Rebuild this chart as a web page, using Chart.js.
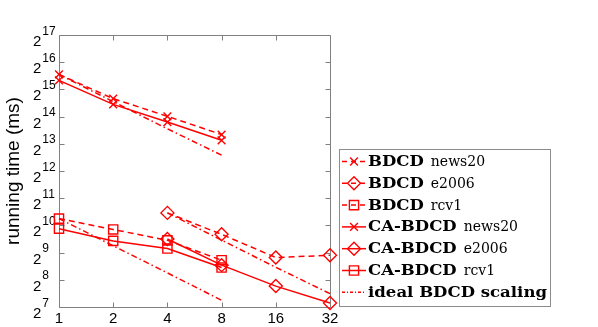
<!DOCTYPE html>
<html>
<head>
<meta charset="utf-8">
<script src="https://cdn.jsdelivr.net/npm/chart.js@4/dist/chart.umd.min.js"></script>
<style>
  html, body { margin: 0; padding: 0; background: #fff; }
  #wrap { width: 598px; height: 327px; }
</style>
</head>
<body>
<div id="wrap"><canvas id="c" width="598" height="327"></canvas></div>
<script>
// ---- data (running time in ms) ----
const procsA = [1, 2, 4, 8];          // news20, rcv1
const procsB = [4, 8, 16, 32];        // e2006
const xTicks = [1, 2, 4, 8, 16, 32];
const yTickExps = [7, 8, 9, 10, 11, 12, 13, 14, 15, 16, 17];

const bdcdNews20 = [48000, 25900, 16500, 10370];
const bdcdE2006  = [1409, 815, 452, 478];
const bdcdRcv1   = [1218, 923, 699, 422];
const caNews20   = [41200, 22380, 14260, 8960];
const caE2006    = [724, 372, 218, 142];
const caRcv1     = [942, 690, 568, 350];
const idealNews20 = [48000, 24000, 12000, 6130];
const idealRcv1   = [1218, 609, 305, 152];
const idealE2006  = [1409, 704, 352, 180];

const legendBold   = ['BDCD', 'BDCD', 'BDCD', 'CA-BDCD', 'CA-BDCD', 'CA-BDCD', 'ideal BDCD scaling'];
const legendNormal = ['news20', 'e2006', 'rcv1', 'news20', 'e2006', 'rcv1', ''];

const RED = '#ff0000';
const pts = (xs, ys) => xs.map((x, i) => ({ x: x, y: ys[i] }));

function ds(data, style, dash, radius) {
  return {
    data: data,
    borderColor: RED,
    backgroundColor: 'rgba(0,0,0,0)',
    borderWidth: 1.5,
    borderDash: dash,
    pointStyle: style,
    pointRadius: radius,
    pointHoverRadius: radius,
    pointBorderColor: RED,
    pointBackgroundColor: 'rgba(0,0,0,0)',
    pointBorderWidth: 1.4,
    tension: 0,
    clip: false,
    fill: false
  };
}
const DASH = [6, 4];
const DASHDOT = [6, 3, 1.5, 3];

const datasets = [
  ds(pts(procsA, bdcdNews20), 'crossRot', DASH, 5.5),
  ds(pts(procsB, bdcdE2006), 'rectRot', DASH, 6.5),
  ds(pts(procsA, bdcdRcv1), 'rect', DASH, 6.5),
  ds(pts(procsA, caNews20), 'crossRot', [], 5.5),
  ds(pts(procsB, caE2006), 'rectRot', [], 6.5),
  ds(pts(procsA, caRcv1), 'rect', [], 6.5),
  ds(pts(procsA, idealNews20), false, DASHDOT, 0),
  ds(pts(procsA, idealRcv1), false, DASHDOT, 0),
  ds(pts(procsB, idealE2006), false, DASHDOT, 0)
];

const SANS = '"Liberation Sans", Arial, Helvetica, sans-serif';
const SERIF = '"DejaVu Serif", "Liberation Serif", serif';

const framePlugin = {
  id: 'frame',
  beforeDatasetsDraw(chart) {
    const { ctx, chartArea: a, scales } = chart;
    const L = Math.round(a.left) + 0.5, R = Math.round(a.right) + 0.5;
    const T = Math.round(a.top) + 0.5, B = Math.round(a.bottom) + 0.5;
    ctx.save();
    ctx.strokeStyle = '#808080';
    ctx.lineWidth = 1;
    ctx.beginPath();
    ctx.rect(L, T, R - L, B - T);
    // inner ticks
    const tl = 5;
    xTicks.forEach(v => {
      const px = Math.round(scales.x.getPixelForValue(v)) + 0.5;
      ctx.moveTo(px, B); ctx.lineTo(px, B - tl);
      ctx.moveTo(px, T); ctx.lineTo(px, T + tl);
    });
    yTickExps.forEach(e => {
      const py = Math.round(scales.y.getPixelForValue(Math.pow(2, e))) + 0.5;
      ctx.moveTo(L, py); ctx.lineTo(L + tl, py);
      ctx.moveTo(R, py); ctx.lineTo(R - tl, py);
    });
    ctx.stroke();

    // tick labels
    ctx.fillStyle = '#000';
    ctx.textBaseline = 'alphabetic';
    xTicks.forEach(v => {
      const px = scales.x.getPixelForValue(v);
      ctx.font = '15px ' + SANS;
      ctx.textAlign = 'center';
      ctx.fillText(String(v), px, a.bottom + 16);
    });
    yTickExps.forEach(e => {
      const py = scales.y.getPixelForValue(Math.pow(2, e));
      ctx.textAlign = 'left';
      ctx.font = '15px ' + SANS;
      ctx.fillText('2', 33, py + 11);
      const w = ctx.measureText('2').width;
      ctx.font = '12px ' + SANS;
      ctx.fillText(String(e), 33 + w + 1, py - 0.5);
    });

    // axis title
    ctx.save();
    ctx.translate(14, (a.top + a.bottom) / 2);
    ctx.rotate(-Math.PI / 2);
    ctx.font = '19px ' + SANS;
    ctx.textAlign = 'center';
    ctx.textBaseline = 'middle';
    ctx.fillText('running time (ms)', 0, 0);
    ctx.restore();
    ctx.restore();
  },
  afterDraw(chart) {
    const ctx = chart.ctx;
    const bx = 339.5, by = 149.5, bw = 211, bh = 157;
    ctx.save();
    ctx.fillStyle = '#fff';
    ctx.fillRect(bx, by, bw, bh);
    ctx.strokeStyle = '#8c8c8c';
    ctx.lineWidth = 1;
    ctx.strokeRect(bx, by, bw, bh);

    // horizontal stretch so the serif text is as wide as the reference's
    ctx.font = 'bold 15px ' + SERIF;
    const sx = 179 / ctx.measureText(legendBold[6]).width;

    const legendSets = [0, 1, 2, 3, 4, 5, 6];
    legendSets.forEach((di, i) => {
      const d = chart.data.datasets[di];
      const cy = 161.5 + i * 21.8;
      ctx.save();
      ctx.strokeStyle = RED;
      ctx.lineWidth = 1.5;
      ctx.setLineDash(di === 6 ? [3, 2, 1, 2] : (d.borderDash.length ? [5, 4] : []));
      ctx.beginPath();
      ctx.moveTo(342, cy);
      ctx.lineTo(366, cy);
      ctx.stroke();
      ctx.setLineDash([]);
      if (d.pointStyle) {
        ctx.strokeStyle = RED;
        ctx.fillStyle = 'rgba(0,0,0,0)';
        ctx.lineWidth = 1.4;
        Chart.helpers.drawPoint(ctx, {
          pointStyle: d.pointStyle,
          radius: d.pointRadius,
          rotation: 0,
          borderWidth: 1.4
        }, 354, cy);
      }
      ctx.restore();

      ctx.save();
      ctx.fillStyle = '#000';
      ctx.textAlign = 'left';
      ctx.textBaseline = 'alphabetic';
      ctx.translate(368, cy + 4.5);
      ctx.scale(sx, 1);
      ctx.font = 'bold 15px ' + SERIF;
      const b = legendBold[i];
      ctx.fillText(b, 0, 0);
      const w = ctx.measureText(b).width;
      ctx.restore();
      if (legendNormal[i]) {
        ctx.fillStyle = '#000';
        ctx.textAlign = 'left';
        ctx.textBaseline = 'alphabetic';
        ctx.font = '14px ' + SERIF;
        ctx.fillText(legendNormal[i], 368 + w * sx + 7, cy + 4.5);
      }
    });
    ctx.restore();
  }
};

new Chart(document.getElementById('c'), {
  type: 'line',
  data: { datasets: datasets },
  options: {
    responsive: false,
    devicePixelRatio: 1,
    animation: false,
    events: [],
    layout: { padding: { left: 59, right: 268, top: 35, bottom: 20 } },
    plugins: { legend: { display: false }, tooltip: { enabled: false } },
    scales: {
      x: { type: 'logarithmic', min: 1, max: 32, display: false },
      y: { type: 'logarithmic', min: Math.pow(2, 7), max: Math.pow(2, 17), display: false }
    }
  },
  plugins: [framePlugin]
});
</script>
</body>
</html>
